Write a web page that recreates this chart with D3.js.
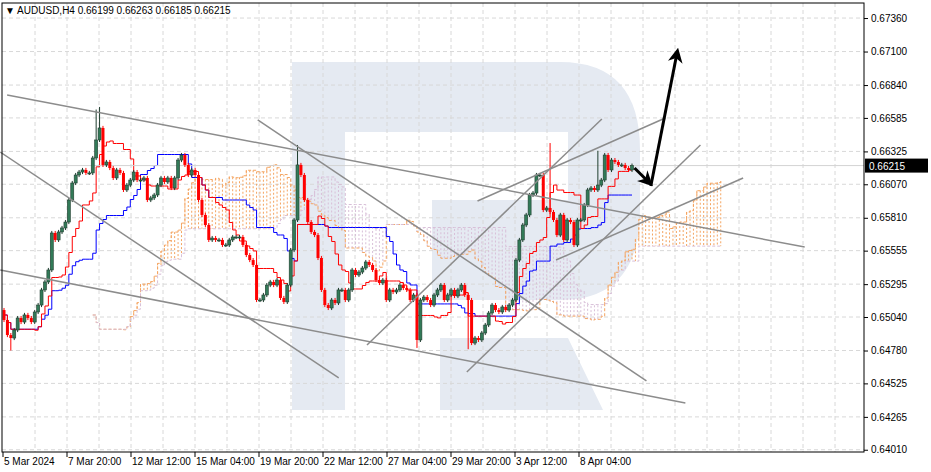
<!DOCTYPE html>
<html><head><meta charset="utf-8">
<script src="https://cdn.jsdelivr.net/npm/d3@7"></script>
<style>body{margin:0;background:#fff}svg{display:block}text{font-family:"Liberation Sans",Arial,sans-serif}</style>
</head><body>
<svg id="c" width="931" height="472"></svg>
<script>
const title = "AUDUSD,H4  0.66199 0.66263 0.66185 0.66215";
const closes = [.65017,.64900,.64877,.64939,.65032,.65001,.65056,.65032,.65001,.65079,.65133,.65250,.65312,.65405,.65692,.65638,.65700,.65731,.65777,.65948,.66080,.66142,.66165,.66181,.66158,.66158,.66274,.66414,.66507,.66220,.66243,.66196,.66119,.66181,.66158,.66026,.66064,.66103,.66165,.66103,.66103,.66119,.65948,.65964,.65987,.66064,.66119,.66088,.66119,.66041,.66119,.66258,.66297,.66220,.66142,.66181,.66142,.65948,.65832,.65754,.65638,.65653,.65638,.65638,.65599,.65599,.65638,.65661,.65661,.65661,.65599,.65521,.65482,.65444,.65172,.65172,.65211,.65288,.65312,.65288,.65327,.65188,.65157,.65288,.65560,.65793,.66220,.66142,.65948,.65777,.65700,.65676,.65498,.65250,.65133,.65110,.65172,.65149,.65250,.65250,.65172,.65250,.65405,.65366,.65389,.65420,.65467,.65444,.65405,.65327,.65304,.65327,.65172,.65250,.65234,.65250,.65288,.65265,.65250,.65172,.65211,.64862,.65172,.65195,.65172,.65133,.65211,.65250,.65288,.65172,.65211,.65250,.65203,.65250,.65288,.65211,.65172,.64838,.64877,.64862,.64916,.64978,.65071,.65133,.65094,.65079,.65118,.65094,.65133,.65172,.65482,.65638,.65754,.65832,.65987,.66002,.66142,.66142,.65870,.65886,.65855,.65793,.65676,.65832,.65638,.65793,.65777,.65599,.65793,.65793,.65909,.66026,.66041,.66026,.66064,.66103,.66297,.66181,.66258,.66243,.66220,.66220,.66196,.66181,.66215];
const firstOpen = 0.65094;
const wick = 0.00016;
// notable wick extremes: [barIndex, high]
const highOverrides = [[28,.66670],[27,.66650],[86,.66375],[160,.66390],[174,.66330]];
const lowOverrides = [[2,.64780],[121,.64800],[136,.64790]];
const priceTicks = [0.67360,0.67100,0.66840,0.66585,0.66325,0.66070,0.65810,0.65555,0.65295,0.65040,0.64780,0.64525,0.64265,0.64010];
const dateLabels = ["5 Mar 2024","7 Mar 20:00","12 Mar 12:00","15 Mar 04:00","19 Mar 20:00","22 Mar 12:00","27 Mar 04:00","29 Mar 20:00","3 Apr 12:00","8 Apr 04:00"];
const lastPrice = 0.66215;
const trendLines = [
 [[0.005,.66763],[1.275,.65583]],[[-0.006,.66320],[0.533,.64567]],[[-0.006,.65405],[1.085,.64373]],
 [[0.404,.66569],[1.023,.64544]],[[0.578,.64823],[0.952,.66577]],[[0.754,.65940],[1.053,.66584]],
 [[0.737,.64613],[1.109,.66375]],[[0.879,.65482],[1.177,.66119]]];
const arrows = [[[1.004,.66196],[1.028,.66080]],[[1.030,.66057],[1.072,.67096]]];

const W=931,H=472, L=2, R=864, B=452;
const svg=d3.select("#c");
const n=closes.length;
const opens=closes.map((c,i)=>i?closes[i-1]:firstOpen);
const highs=closes.map((c,i)=>Math.max(c,opens[i])+wick);
const lows=closes.map((c,i)=>Math.min(c,opens[i])-wick);
highOverrides.forEach(([i,v])=>{if(i<n)highs[i]=Math.max(highs[i],v);});
lowOverrides.forEach(([i,v])=>{if(i<n)lows[i]=Math.min(lows[i],v);});
const x=d3.scaleLinear().domain([0,n-1]).range([4,632]);
const xf=f=>4+f*628;
const y=d3.scaleLinear().domain([0.639925,0.6750]).range([B,0]);

svg.append("path").attr("fill","#e5eaf2").attr("d",
 "M292,62H560Q640,62 640,150V210Q640,300 560,300H432V200H568V132H345V410H292Z M440,338H568L603,410H440Z");

const g=svg.append("g").attr("stroke","#d8d8d8").attr("stroke-dasharray","4,3");
for(let gx=35;gx<R;gx+=32) g.append("line").attr("x1",gx).attr("x2",gx).attr("y1",3).attr("y2",B);
priceTicks.forEach(p=>g.append("line").attr("x1",L).attr("x2",R).attr("y1",y(p)).attr("y2",y(p)));

function mid(k,i){const s=Math.max(0,i-k+1);return (d3.max(highs.slice(s,i+1))+d3.min(lows.slice(s,i+1)))/2;}
const tenkan=closes.map((c,i)=>mid(9,i)), kijun=closes.map((c,i)=>mid(26,i));
const spanA=[],spanB=[];
for(let i=0;i<n;i++){spanA.push([i+26,(tenkan[i]+kijun[i])/2]);spanB.push([i+26,mid(52,i)]);}
const cloud=svg.append("g");
spanA.forEach((a,i)=>{const b=spanB[i];const X=x(a[0]);if(X>R)return;
 cloud.append("line").attr("x1",X).attr("x2",X).attr("y1",y(a[1])).attr("y2",y(b[1]))
 .attr("stroke",a[1]>=b[1]?"#f4a460":"#d8bfd8").attr("stroke-dasharray","2,2").attr("stroke-width",1);});
const stepL=d3.line().x(d=>x(d[0])).y(d=>y(d[1])).curve(d3.curveStepAfter);
cloud.append("path").datum(spanA).attr("d",stepL).attr("fill","none").attr("stroke","#f4a460").attr("stroke-dasharray","3,2");
cloud.append("path").datum(spanB).attr("d",stepL).attr("fill","none").attr("stroke","#d8bfd8").attr("stroke-dasharray","3,2");
svg.append("path").datum(kijun.map((v,i)=>[i,v])).attr("d",stepL).attr("fill","none").attr("stroke","#0000ff").attr("stroke-width",1);
svg.append("path").datum(tenkan.map((v,i)=>[i,v])).attr("d",stepL).attr("fill","none").attr("stroke","#ff0000").attr("stroke-width",1);

svg.append("line").attr("x1",L).attr("x2",R).attr("y1",y(lastPrice)).attr("y2",y(lastPrice)).attr("stroke","#d3d3d3");

const cg=svg.append("g");
closes.forEach((c,i)=>{const o=opens[i],up=c>=o,X=x(i);
 cg.append("line").attr("x1",X).attr("x2",X).attr("y1",y(highs[i])).attr("y2",y(lows[i])).attr("stroke",up?"#1e3d2e":"#ff0000");
 cg.append("rect").attr("x",X-1.5).attr("width",3).attr("y",y(Math.max(o,c))).attr("height",Math.max(1,Math.abs(y(o)-y(c))))
  .attr("fill",up?"#327a58":"#ff0000").attr("stroke",up?"#1e3d2e":"none").attr("stroke-width",0.6);});

trendLines.forEach(l=>svg.append("line").attr("x1",xf(l[0][0])).attr("y1",y(l[0][1])).attr("x2",xf(l[1][0])).attr("y2",y(l[1][1]))
 .attr("stroke","#8c8c8c").attr("stroke-width",1.5));
svg.append("defs").append("marker").attr("id","ah").attr("viewBox","0 0 10 10").attr("refX",7).attr("refY",5)
 .attr("markerWidth",5).attr("markerHeight",5).attr("orient","auto").append("path").attr("d","M0,0L10,5L0,10L3,5Z").attr("fill","#000");
arrows.forEach(l=>svg.append("line").attr("x1",xf(l[0][0])).attr("y1",y(l[0][1])).attr("x2",xf(l[1][0])).attr("y2",y(l[1][1]))
 .attr("stroke","#000").attr("stroke-width",3).attr("marker-end","url(#ah)"));

svg.append("rect").attr("x",L).attr("y",3).attr("width",R-L).attr("height",B-3).attr("fill","none").attr("stroke","#000");
svg.append("g").attr("transform",`translate(${R},0)`).call(d3.axisRight(y).tickValues(priceTicks).tickFormat(d3.format(".5f")).tickSize(4))
 .call(a=>{a.select(".domain").remove();a.selectAll("text").attr("font-size",10).attr("fill","#000").attr("font-family","Liberation Sans");});
svg.append("rect").attr("x",R+1).attr("y",y(lastPrice)-7).attr("width",63).attr("height",14).attr("fill","#000");
svg.append("text").attr("x",R+5).attr("y",y(lastPrice)+4).attr("fill","#fff").attr("font-size",10).text(d3.format(".5f")(lastPrice));
dateLabels.forEach((t,i)=>{const X=3+64*i;
 svg.append("line").attr("x1",X).attr("x2",X).attr("y1",B).attr("y2",B+5).attr("stroke","#000");
 svg.append("text").attr("x",X+1).attr("y",B+13).attr("font-size",10).text(t);});
svg.append("text").attr("x",5).attr("y",14).attr("font-size",10).text("▼ "+title);
</script></body></html>
